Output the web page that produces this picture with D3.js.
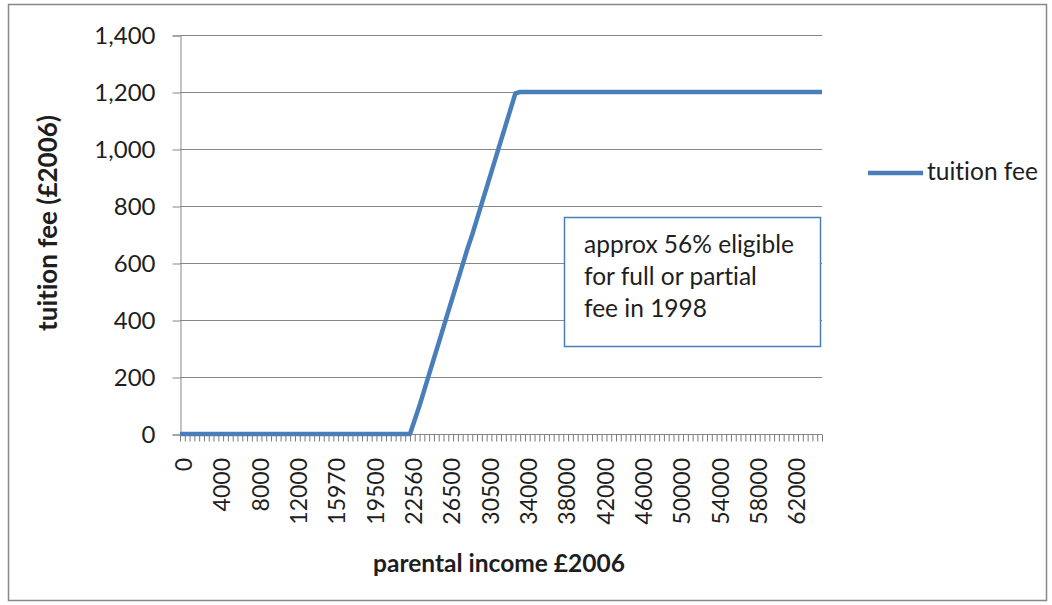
<!DOCTYPE html>
<html>
<head>
<meta charset="utf-8">
<script src="https://cdn.jsdelivr.net/npm/d3@7"></script>
<style>
  body { margin: 0; background: #fff; }
  text { font-family: Lato, "Open Sans", sans-serif; fill: #1e1e1e; font-variant-ligatures: none; font-feature-settings: "liga" 0; }
</style>
</head>
<body>
<svg id="chart" width="1052" height="605"></svg>
<script>
// parental income categories (£2006)
var incomes = [
  0, 500, 1000, 1500, 2000, 2500, 3000, 3500, 4000, 4500, 5000, 5500, 6000, 6500, 7000, 7500,
  8000, 8500, 9000, 9500, 10000, 10500, 11000, 11500, 12000, 12500, 13000, 13500, 14000, 14500, 15000, 15500,
  15970, 16000, 16500, 17000, 17500, 18000, 18500, 19000, 19500,
  20000, 20500, 21000, 21500, 21885, 22000, 22500, 22560,
  23000, 23500, 24000, 24500, 25000, 25500, 26000, 26500, 27000, 27500, 28000, 28500, 29000, 29500, 30000, 30500,
  31000, 31500, 32000, 32500, 33000, 33500, 33560,
  34000, 34500, 35000, 35500, 36000, 36500, 37000, 37500, 38000, 38500, 39000, 39500, 40000, 40500, 41000, 41500,
  42000, 42500, 43000, 43500, 44000, 44500, 45000, 45500, 46000, 46500, 47000, 47500, 48000, 48500, 49000, 49500,
  50000, 50500, 51000, 51500, 52000, 52500, 53000, 53500, 54000, 54500, 55000, 55500, 56000, 56500, 57000, 57500,
  58000, 58500, 59000, 59500, 60000, 60500, 61000, 61500, 62000, 62500, 63000, 63500, 64000, 64500, 65000
];

// tuition fee (£2006)
var tuitionFee = [
  0, 0, 0, 0, 0, 0, 0, 0, 0, 0,
  0, 0, 0, 0, 0, 0, 0, 0, 0, 0,
  0, 0, 0, 0, 0, 0, 0, 0, 0, 0,
  0, 0, 0, 0, 0, 0, 0, 0, 0, 0,
  0, 0, 0, 0, 0, 0, 0, 0, 0,
  50, 100, 155, 210, 265, 320, 375, 430, 485, 540, 595, 650, 700, 755, 810, 865, 920, 975, 1030, 1085, 1140, 1195,
  1200, 1200, 1200, 1200, 1200, 1200, 1200, 1200, 1200, 1200, 1200, 1200, 1200, 1200, 1200, 1200,
  1200, 1200, 1200, 1200, 1200, 1200, 1200, 1200, 1200, 1200, 1200, 1200, 1200, 1200, 1200, 1200,
  1200, 1200, 1200, 1200, 1200, 1200, 1200, 1200, 1200, 1200, 1200, 1200, 1200, 1200, 1200, 1200,
  1200, 1200, 1200, 1200, 1200, 1200, 1200, 1200, 1200, 1200, 1200, 1200, 1200, 1200, 1200, 1200
];

var xLabels = ["0", "4000", "8000", "12000", "15970", "19500", "22560", "26500", "30500",
  "34000", "38000", "42000", "46000", "50000", "54000", "58000", "62000"];
var yTicks = [0, 200, 400, 600, 800, 1000, 1200, 1400];
var noteLines = ["approx 56% eligible", "for full or partial", "fee in 1998"];

var data = incomes.map(function(d, i) {
  return { income: String(d), fee: tuitionFee[i] };
});

var plotLeft = 180, plotRight = 822, plotTop = 35, plotBottom = 434;
var grey = "#878787", blue = "#4a7ebb";

var svg = d3.select("#chart");

// outer chart frame
svg.append("rect").attr("x", 8.5).attr("y", 4.5).attr("width", 1038).attr("height", 596)
  .attr("fill", "#fff").attr("stroke", grey).attr("stroke-width", 1.5);

var x = d3.scalePoint().domain(data.map(function(d) { return d.income; })).range([plotLeft, plotRight]);
var y = d3.scaleLinear().domain([0, 1400]).range([plotBottom, plotTop]);

// gridlines
svg.append("g").selectAll("line").data(yTicks).enter().append("line")
  .attr("x1", plotLeft).attr("x2", plotRight)
  .attr("y1", function(d) { return y(d) + .5; }).attr("y2", function(d) { return y(d) + .5; })
  .attr("stroke", grey).attr("stroke-width", 1);

// y axis
var yAxis = svg.append("g").attr("transform", "translate(" + (plotLeft + .5) + ",0.5)")
  .call(d3.axisLeft(y).tickValues(yTicks).tickSize(8).tickPadding(17).tickFormat(d3.format(",")));
yAxis.select(".domain").attr("stroke", grey);
yAxis.selectAll(".tick line").attr("stroke", grey);
yAxis.selectAll("text").attr("font-size", 24).attr("fill", "#1e1e1e").style("font-family", "Lato");

// x axis (a tick on every category, labels drawn rotated below)
var xAxis = svg.append("g").attr("transform", "translate(0," + (plotBottom + .5) + ")")
  .call(d3.axisBottom(x).tickSize(7).tickFormat(""));
xAxis.select(".domain").attr("stroke", grey).attr("d", "M" + plotLeft + ",0H" + plotRight);
xAxis.selectAll(".tick line").attr("stroke", "#7a7a7a");

svg.append("g").selectAll("text").data(xLabels).enter().append("text")
  .attr("transform", function(d) { return "translate(" + (x(d) + 4) + "," + (plotBottom + 24) + ") rotate(-90)"; })
  .attr("text-anchor", "end").attr("dy", "0.35em")
  .attr("font-size", 23)
  .text(function(d) { return d; });

// tuition fee line
var line = d3.line()
  .x(function(d) { return x(d.income); })
  .y(function(d) { return y(d.fee); });
svg.append("path").datum(data).attr("d", line)
  .attr("fill", "none").attr("stroke", blue).attr("stroke-width", 4.5)
  .attr("stroke-linejoin", "round");

// annotation box
svg.append("rect").attr("x", 564.5).attr("y", 217.5).attr("width", 256).attr("height", 129)
  .attr("fill", "#fff").attr("stroke", blue).attr("stroke-width", 1.5);
svg.append("g").selectAll("text").data(noteLines).enter().append("text")
  .attr("x", 584).attr("y", function(d, i) { return 253 + i * 32; })
  .attr("font-size", 24.5)
  .text(function(d) { return d; });

// legend
svg.append("line").attr("x1", 868).attr("x2", 923).attr("y1", 173).attr("y2", 173)
  .attr("stroke", blue).attr("stroke-width", 4.5);
svg.append("text").attr("x", 927).attr("y", 180).attr("font-size", 24.5).text("tuition fee");

// axis titles
svg.append("text").attr("transform", "translate(57,223) rotate(-90)")
  .attr("text-anchor", "middle").attr("font-size", 26).attr("font-weight", "bold")
  .text("tuition fee (£2006)");
svg.append("text").attr("x", 499).attr("y", 572)
  .attr("text-anchor", "middle").attr("font-size", 24.5).attr("font-weight", "bold")
  .text("parental income £2006");
</script>
</body>
</html>
